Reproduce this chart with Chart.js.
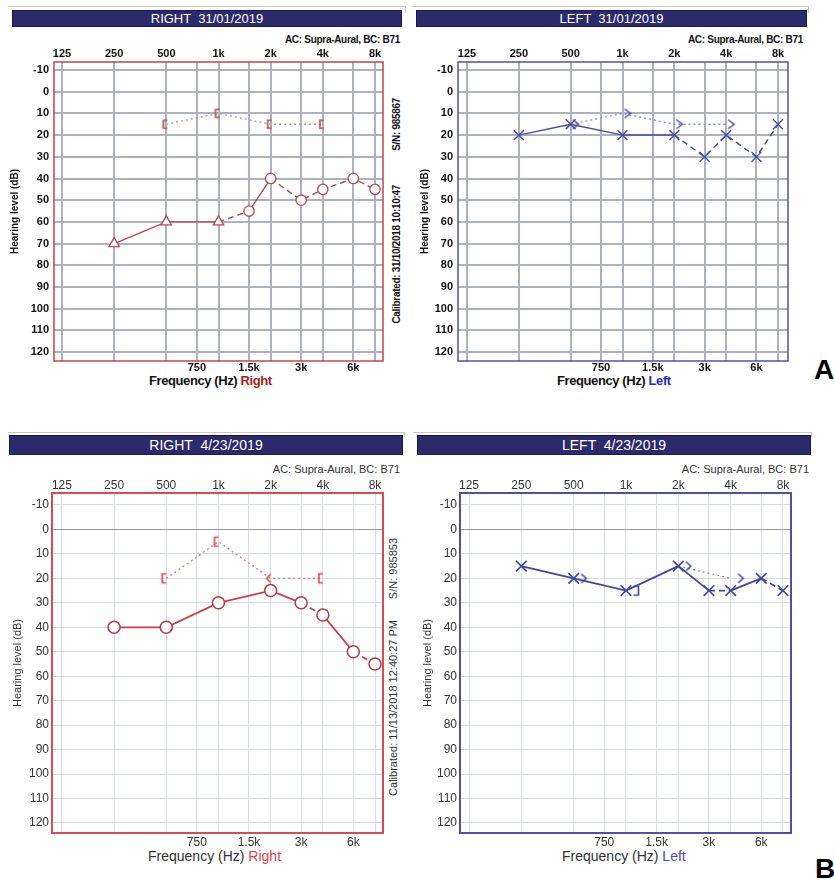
<!DOCTYPE html>
<html><head><meta charset="utf-8">
<script src="https://cdn.jsdelivr.net/npm/chart.js@4.4.1/dist/chart.umd.min.js"></script>
<style>
body{margin:0;background:#fff;width:834px;height:885px;position:relative;overflow:hidden;font-family:"Liberation Sans",Arial,sans-serif}
.bar{position:absolute;background:#2d2a6b;color:#fff;text-align:center;box-sizing:border-box;border:1px solid #1c1a4c;white-space:pre}
.abs{position:absolute;white-space:nowrap}
.frame{position:absolute;border-top:1px solid #c8c8c8;border-right:1px solid #c8c8c8}
canvas{position:absolute}
.vt{position:absolute;writing-mode:vertical-rl;transform:rotate(180deg);white-space:nowrap}
.fa{font-weight:bold;font-size:10px;letter-spacing:-0.3px;color:#111}
.fb{font-size:11px;color:#333}
</style></head>
<body>
<div class="frame" style="left:8px;top:6px;width:397px;height:6px"></div>
<div class="frame" style="left:412px;top:6px;width:396px;height:6px"></div>
<div class="frame" style="left:8px;top:432px;width:396px;height:4px"></div>
<div class="frame" style="left:413px;top:432px;width:398px;height:4px"></div>

<div class="bar" style="left:12px;top:10px;width:390px;height:17px;font-size:13px;line-height:15px">RIGHT  31/01/2019</div>
<div class="bar" style="left:416px;top:10px;width:391px;height:17px;font-size:13px;line-height:15px">LEFT  31/01/2019</div>
<div class="bar" style="left:9px;top:435px;width:394px;height:20px;font-size:14px;line-height:18px">RIGHT  4/23/2019</div>
<div class="bar" style="left:417px;top:435px;width:394px;height:20px;font-size:14px;line-height:18px">LEFT  4/23/2019</div>

<div class="abs fa" style="right:434px;top:34px">AC: Supra-Aural, BC: B71</div>
<div class="abs fa" style="right:31px;top:34px">AC: Supra-Aural, BC: B71</div>
<div class="abs fb" style="right:434px;top:463px">AC: Supra-Aural, BC: B71</div>
<div class="abs fb" style="right:25px;top:463px">AC: Supra-Aural, BC: B71</div>

<div class="vt fa" style="left:391px;top:98px;line-height:12px">S/N: 985867</div>
<div class="vt fa" style="left:391px;top:185px;line-height:12px">Calibrated: 31/10/2018 10:10:47</div>
<div class="vt fb" style="left:386px;top:538px;line-height:14px">S/N: 985853</div>
<div class="vt fb" style="left:386px;top:620px;line-height:14px">Calibrated: 11/13/2018 12:40:27 PM</div>

<div class="abs" style="left:149px;top:373px;font-weight:bold;font-size:13px;letter-spacing:-0.4px;color:#111">Frequency (Hz) <span style="color:#a41e22">Right</span></div>
<div class="abs" style="left:557px;top:373px;font-weight:bold;font-size:13px;letter-spacing:-0.4px;color:#111">Frequency (Hz) <span style="color:#2a2ab0">Left</span></div>
<div class="abs" style="left:148px;top:848px;font-size:14px;color:#333">Frequency (Hz) <span style="color:#e0474c">Right</span></div>
<div class="abs" style="left:562px;top:848px;font-size:14px;color:#333">Frequency (Hz) <span style="color:#4a4ac0">Left</span></div>

<div class="abs" style="left:814px;top:354px;font-weight:bold;font-size:28px;color:#000">A</div>
<div class="abs" style="left:815px;top:853px;font-weight:bold;font-size:28px;color:#000">B</div>

<canvas id="cAR" width="410" height="345" style="left:0;top:30px"></canvas>
<canvas id="cAL" width="400" height="345" style="left:410px;top:30px"></canvas>
<canvas id="cBR" width="410" height="386" style="left:0;top:460px"></canvas>
<canvas id="cBL" width="400" height="386" style="left:410px;top:460px"></canvas>

<script>
// ---------- shared axis data ----------
const GRID_FREQS = [125, 250, 500, 750, 1000, 1500, 2000, 3000, 4000, 6000, 8000];
const TOP_FREQS = [125, 250, 500, 1000, 2000, 4000, 8000];
const TOP_LABELS = ['125', '250', '500', '1k', '2k', '4k', '8k'];
const MID_FREQS = [750, 1500, 3000, 6000];
const MID_LABELS = ['750', '1.5k', '3k', '6k'];
const HL_TICKS = [-10, 0, 10, 20, 30, 40, 50, 60, 70, 80, 90, 100, 110, 120];

// ---------- A: 31/01/2019 ----------
const aRightAcFreq = [250, 500, 1000, 1500, 2000, 3000, 4000, 6000, 8000];
const aRightAcDb = [70, 60, 60, 55, 40, 50, 45, 40, 45];
const aRightAcMasked = [true, true, true, false, false, false, false, false, false];
const aRightBcFreq = [500, 1000, 2000, 4000];
const aRightBcDb = [15, 10, 15, 15];
const aRightBcMasked = [true, true, true, true];

const aLeftAcFreq = [250, 500, 1000, 2000, 3000, 4000, 6000, 8000];
const aLeftAcDb = [20, 15, 20, 20, 30, 20, 30, 15];
const aLeftBcFreq = [500, 1000, 2000, 4000];
const aLeftBcDb = [15, 10, 15, 15];
const aLeftBcMasked = [false, false, false, false];

// ---------- B: 4/23/2019 ----------
const bRightAcFreq = [250, 500, 1000, 2000, 3000, 4000, 6000, 8000];
const bRightAcDb = [40, 40, 30, 25, 30, 35, 50, 55];
const bRightAcMasked = [false, false, false, false, false, false, false, false];
const bRightBcFreq = [500, 1000, 2000, 4000];
const bRightBcDb = [20, 5, 20, 20];
const bRightBcMasked = [true, true, false, true];

const bLeftAcFreq = [250, 500, 1000, 2000, 3000, 4000, 6000, 8000];
const bLeftAcDb = [15, 20, 25, 15, 25, 25, 20, 25];
const bLeftBcFreq = [500, 1000, 2000, 4000];
const bLeftBcDb = [20, 25, 15, 20];
const bLeftBcMasked = [false, true, false, false];

// ---------- line segment styles (style only) ----------
const SEG_A_RIGHT_AC = ['solid', 'solid', 'dash', 'solid', 'dash', 'dash', 'dash', 'dash'];
const SEG_A_LEFT_AC = ['solid', 'solid', 'solid', 'dash', 'dash', 'dash', 'dash'];
const SEG_B_RIGHT_AC = ['solid', 'solid', 'solid', 'solid', 'dash', 'solid', 'dash'];
const SEG_B_LEFT_AC = ['solid', 'solid', 'solid', 'solid', 'dash', 'solid', 'dash'];
const SEG_A_RIGHT_BC = ['dot', 'dot', 'dot'];
const SEG_A_LEFT_BC = ['dot', 'dot', 'dot'];
const SEG_B_RIGHT_BC = ['dot', 'dot', 'dot'];
const SEG_B_LEFT_BC = ['none', 'none', 'dot'];

const DASH = { solid: [], dash: [6, 4], dot: [2, 3], none: [] };

function glyph(kind, color, dx, h, w, lw) {
  const c = document.createElement('canvas');
  c.width = 44; c.height = 24;
  const g = c.getContext('2d');
  const cx = 22 + dx, cy = 12;
  g.strokeStyle = color; g.lineWidth = lw; g.lineJoin = 'miter';
  g.beginPath();
  if (kind === '[') { g.moveTo(cx + w / 2, cy - h / 2); g.lineTo(cx - w / 2, cy - h / 2); g.lineTo(cx - w / 2, cy + h / 2); g.lineTo(cx + w / 2, cy + h / 2); }
  if (kind === ']') { g.moveTo(cx - w / 2, cy - h / 2); g.lineTo(cx + w / 2, cy - h / 2); g.lineTo(cx + w / 2, cy + h / 2); g.lineTo(cx - w / 2, cy + h / 2); }
  if (kind === '<') { g.moveTo(cx + w / 2, cy - h / 2); g.lineTo(cx - w / 2, cy); g.lineTo(cx + w / 2, cy + h / 2); }
  if (kind === '>') { g.moveTo(cx - w / 2, cy - h / 2); g.lineTo(cx + w / 2, cy); g.lineTo(cx - w / 2, cy + h / 2); }
  g.stroke();
  return c;
}

const pts = (f, d) => f.map((x, i) => ({ x: x, y: d[i] }));

function segStyle(list, color) {
  return {
    borderDash: ctx => DASH[list[ctx.p0DataIndex]] || [],
    borderColor: ctx => list[ctx.p0DataIndex] === 'none' ? 'rgba(0,0,0,0)' : color
  };
}

const framePlugin = {
  id: 'frame',
  beforeDatasetsDraw(chart, args, opts) {
    const a = chart.chartArea, c = chart.ctx;
    c.save(); c.strokeStyle = opts.color; c.lineWidth = opts.width;
    c.strokeRect(a.left, a.top, a.right - a.left, a.bottom - a.top);
    c.restore();
  }
};

function audiogram(p) {
  const t = p.theme;
  const minF = 125 / Math.pow(2, p.padOct[0]);
  const maxF = 8000 * Math.pow(2, p.padOct[1]);
  const cv = document.getElementById(p.id);
  const font = { family: t.family, size: t.size, weight: t.weight, lineHeight: 1.2 };
  new Chart(cv, {
    type: 'line',
    data: { datasets: p.datasets },
    plugins: [framePlugin],
    options: {
      responsive: false, animation: false, devicePixelRatio: 1,
      layout: { padding: { left: 0, top: 0, right: p.padRight, bottom: 0 } },
      plugins: { legend: { display: false }, tooltip: { enabled: false }, frame: { color: t.frame, width: t.frameWidth } },
      scales: {
        x: {
          type: 'logarithmic', position: 'top', min: minF, max: maxF,
          afterBuildTicks: s => { s.ticks = GRID_FREQS.map(v => ({ value: v })); },
          afterFit: s => { s.height = p.topH; },
          ticks: {
            autoSkip: false, maxRotation: 0, padding: t.topPad, color: t.tickColor, font: font,
            callback: v => { const i = TOP_FREQS.indexOf(v); return i >= 0 ? TOP_LABELS[i] : ''; }
          },
          grid: { color: t.grid, lineWidth: t.gridWidth, drawTicks: false },
          border: { display: false }
        },
        x2: {
          type: 'logarithmic', position: 'bottom', min: minF, max: maxF,
          afterBuildTicks: s => { s.ticks = MID_FREQS.map(v => ({ value: v })); },
          afterFit: s => { s.height = p.botH; },
          ticks: {
            autoSkip: false, maxRotation: 0, padding: t.botPad, color: t.tickColor, font: font,
            callback: v => { const i = MID_FREQS.indexOf(v); return i >= 0 ? MID_LABELS[i] : ''; }
          },
          grid: { display: false, drawTicks: false },
          border: { display: false }
        },
        y: {
          type: 'linear', reverse: true, min: p.yRange[0], max: p.yRange[1],
          afterBuildTicks: s => { s.ticks = HL_TICKS.map(v => ({ value: v })); },
          afterFit: s => { s.width = p.leftW; },
          ticks: { padding: t.yPad, color: t.tickColor, font: font },
          grid: { color: c => (c.tick && c.tick.value === 0) ? t.zeroGrid : t.grid, lineWidth: t.gridWidth, drawTicks: false },
          border: { display: false },
          title: {
            display: true, text: 'Hearing level (dB)', color: t.tickColor,
            font: { family: t.family, size: t.titleSize, weight: t.weight },
            padding: { top: t.titlePad, bottom: 0 }
          }
        }
      }
    }
  });
}

const themeA = {
  family: '"Liberation Sans", Arial, sans-serif', size: 11, weight: 'bold', titleSize: 10,
  tickColor: '#111', grid: '#aeb2be', zeroGrid: '#aeb2be', gridWidth: 2,
  frameWidth: 1.5, topPad: 1, botPad: 0, yPad: 5, titlePad: 9
};
const themeB = {
  family: '"Liberation Sans", Arial, sans-serif', size: 12, weight: 'normal', titleSize: 11,
  tickColor: '#333', grid: '#d6dce4', zeroGrid: '#9a9a9a', gridWidth: 1,
  frameWidth: 2, topPad: 0, botPad: 2, yPad: 3, titlePad: 11
};

// colours
const A_RED = '#b24c4e', A_RED_FRAME = '#c2454a', A_BLUE = '#4b4b9e', A_BLUE_FRAME = '#5050aa';
const B_RED = '#cc3f45', B_RED_FRAME = '#dc4a50', B_BLUE = '#45459c', B_BLUE_FRAME = '#4f4fa6';

// A right
audiogram({
  id: 'cAR', theme: Object.assign({}, themeA, { frame: A_RED_FRAME }),
  padOct: [0.153, 0.153], yRange: [-13.7, 124.1], topH: 32, leftW: 54, botH: 14, padRight: 27,
  datasets: [
    {
      data: pts(aRightAcFreq, aRightAcDb), xAxisID: 'x', yAxisID: 'y',
      borderColor: A_RED, borderWidth: 1.4, segment: segStyle(SEG_A_RIGHT_AC, A_RED),
      pointStyle: aRightAcMasked.map(m => m ? 'triangle' : 'circle'),
      pointRadius: aRightAcMasked.map(m => m ? 6 : 5.2),
      pointBorderColor: A_RED, pointBackgroundColor: '#fff', pointBorderWidth: 1.3
    },
    {
      data: pts(aRightBcFreq, aRightBcDb), xAxisID: 'x', yAxisID: 'y',
      borderColor: '#b89094', borderWidth: 1.3, segment: segStyle(SEG_A_RIGHT_BC, '#b89094'),
      pointStyle: aRightBcMasked.map(m => glyph(m ? '[' : '<', A_RED, -1, 8, 4, 1.6)),
      pointRadius: 5
    }
  ]
});

// A left
audiogram({
  id: 'cAL', theme: Object.assign({}, themeA, { frame: A_BLUE_FRAME }),
  padOct: [0.174, 0.193], yRange: [-13.7, 124.1], topH: 32, leftW: 48, botH: 14, padRight: 22,
  datasets: [
    {
      data: pts(aLeftAcFreq, aLeftAcDb), xAxisID: 'x', yAxisID: 'y',
      borderColor: A_BLUE, borderWidth: 1.5, segment: segStyle(SEG_A_LEFT_AC, A_BLUE),
      pointStyle: 'crossRot', pointRadius: 7, pointBorderColor: A_BLUE, pointBorderWidth: 1.4
    },
    {
      data: pts(aLeftBcFreq, aLeftBcDb), xAxisID: 'x', yAxisID: 'y',
      borderColor: '#8d8dc0', borderWidth: 1.3, segment: segStyle(SEG_A_LEFT_BC, '#8d8dc0'),
      pointStyle: aLeftBcMasked.map(m => glyph(m ? ']' : '>', A_BLUE, 5, 9, 6, 1.5)),
      pointRadius: 5
    }
  ]
});

// B right
audiogram({
  id: 'cBR', theme: Object.assign({}, themeB, { frame: B_RED_FRAME }),
  padOct: [0.19, 0.153], yRange: [-14.9, 124.1], topH: 33, leftW: 52, botH: 13, padRight: 27,
  datasets: [
    {
      data: pts(bRightAcFreq, bRightAcDb), xAxisID: 'x', yAxisID: 'y',
      borderColor: B_RED, borderWidth: 1.8, segment: segStyle(SEG_B_RIGHT_AC, B_RED),
      pointStyle: bRightAcMasked.map(m => m ? 'triangle' : 'circle'),
      pointRadius: 6, pointBorderColor: '#b33a40', pointBackgroundColor: '#fff', pointBorderWidth: 1.5
    },
    {
      data: pts(bRightBcFreq, bRightBcDb), xAxisID: 'x', yAxisID: 'y',
      borderColor: '#d77a7e', borderWidth: 1.3, segment: segStyle(SEG_B_RIGHT_BC, '#d77a7e'),
      pointStyle: bRightBcMasked.map(m => glyph(m ? '[' : '<', '#d9484e', -2, 9, 4, 1.6)),
      pointRadius: 5
    }
  ]
});

// B left
audiogram({
  id: 'cBL', theme: Object.assign({}, themeB, { frame: B_BLUE_FRAME }),
  padOct: [0.172, 0.153], yRange: [-14.9, 124.1], topH: 33, leftW: 50, botH: 13, padRight: 19,
  datasets: [
    {
      data: pts(bLeftAcFreq, bLeftAcDb), xAxisID: 'x', yAxisID: 'y',
      borderColor: B_BLUE, borderWidth: 1.8, segment: segStyle(SEG_B_LEFT_AC, B_BLUE),
      pointStyle: 'crossRot', pointRadius: 7.5, pointBorderColor: B_BLUE, pointBorderWidth: 1.6
    },
    {
      data: pts(bLeftBcFreq, bLeftBcDb), xAxisID: 'x', yAxisID: 'y',
      borderColor: '#8a8ac4', borderWidth: 1.3, segment: segStyle(SEG_B_LEFT_BC, '#8a8ac4'),
      pointStyle: bLeftBcMasked.map(m => glyph(m ? ']' : '>', B_BLUE, 10, 9, 5, 1.6)),
      pointRadius: 5
    }
  ]
});
</script>
</body></html>
